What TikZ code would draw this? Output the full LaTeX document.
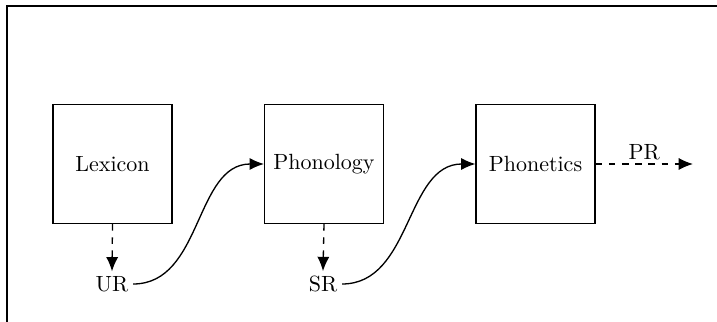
\documentclass[tikz,border=0pt]{standalone}
\usetikzlibrary{arrows.meta}
\begin{document}
\begin{tikzpicture}[x=0.4545pt,y=-0.4545pt,
  module/.style={draw,line width=0.6pt,minimum width=54pt,minimum height=54pt,inner sep=0pt},
  rep/.style={inner sep=2pt},
  tip/.style={-{Latex[length=6.5pt,width=5.5pt]}},
  flow/.style={tip,line width=0.6pt},
  derive/.style={tip,line width=0.6pt,dashed}]
\useasboundingbox (0,0) rectangle (717,322);
% frame
\draw[line width=1pt] (7,322) -- (7,6) -- (717,6);
% modules
\node[module] (lex) at (112.5,164) {Lexicon};
\node[module] (phon) at (324,164) {Phonology};
\node[module] (phtc) at (535.5,164) {Phonetics};
% representations
\node[rep] (ur) at (112,284) {UR};
\node[rep] (sr) at (323,284) {SR};
\coordinate (pr) at (693,164);
% connectors
\draw[derive] (lex.south) -- (ur.north);
\draw[derive] (phon.south) -- (sr.north);
\draw[flow] (ur.east) to[out=0,in=180] (phon.west);
\draw[flow] (sr.east) to[out=0,in=180] (phtc.west);
\draw[derive] (phtc.east) -- node[above,inner sep=1.5pt] {PR} (pr);
\end{tikzpicture}
\end{document}
